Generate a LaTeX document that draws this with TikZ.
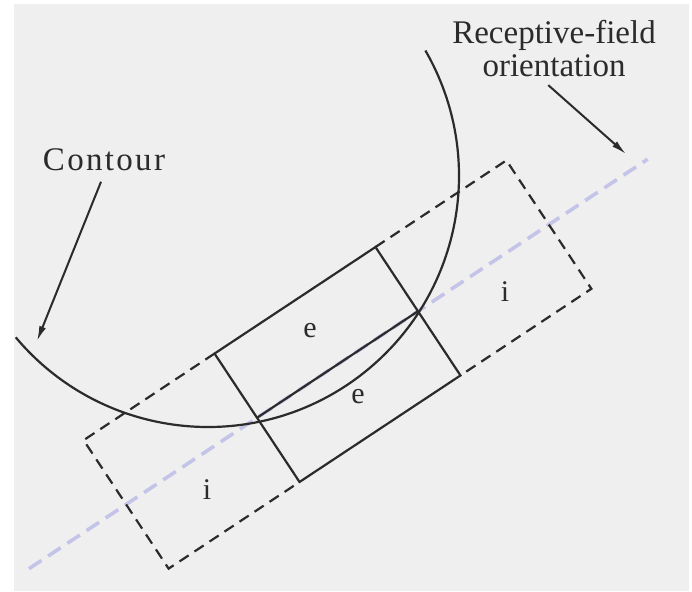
\documentclass[tikz,border=0pt]{standalone}
\usepackage{fontspec}
\setmainfont{Liberation Serif}
\usetikzlibrary{arrows.meta, positioning, calc}
\definecolor{paper}{HTML}{EFEFEF}
\definecolor{inkdark}{HTML}{2B2B2B}
\definecolor{axisblue}{HTML}{C4C4E8}

\begin{document}
\begin{tikzpicture}[
    x=1pt, y=-1pt,
    >=Latex,
    every node/.style={inner sep=3pt},
    lbl/.style={font=\fontsize{33}{33}\selectfont, text=inkdark, align=center},
    zonelbl/.style={font=\fontsize{30}{30}\selectfont, text=inkdark},
    pointer/.style={-{Latex[length=15pt,width=7pt]}, line width=2pt, inkdark},
    solidedge/.style={line width=2.2pt, inkdark},
    dashedge/.style={line width=2.2pt, inkdark, dash pattern=on 11pt off 7pt},
    axisline/.style={line width=3.6pt, axisblue, dash pattern=on 15pt off 8pt},
    contourline/.style={line width=2.2pt, inkdark},
]

% ============ Frame ============
\useasboundingbox (0,0) rectangle (692,591);
\fill[white] (0,0) rectangle (692,591);
\fill[paper] (14,4) rectangle (689,591);

% ============ Receptive field (rotated along its axis) ============
\begin{scope}[shift={(337.5,364.5)}, rotate=33.5]
    % orientation axis
    \draw[axisline] (-370,0) coordinate (axisstart) -- (372,0) coordinate (axisend);
    % inhibitory flanks
    \draw[dashedge] (-96.5,-77) -- (-253.5,-77) -- (-253.5,77) -- (-96.5,77);
    \draw[dashedge] (96.5,-77) -- (253.5,-77) -- (253.5,77) -- (96.5,77);
    % excitatory centre
    \draw[solidedge] (-96.5,-77) rectangle (96.5,77);
    \draw[solidedge] (-96.5,0) -- (96.5,0);
\end{scope}

% ============ Contour ============
\coordinate (ctr) at (208,176);
\draw[contourline] ($(ctr)+(140:251)$) arc[start angle=140, end angle=-30, radius=251];

% ============ Zone labels ============
\node[zonelbl] (eupper) at (310,331) {e};
\node[zonelbl] (elower) at (358,397) {e};
\node[zonelbl] (ileft) at (207,490) {i};
\node[zonelbl] (iright) at (505,292) {i};

% ============ Callouts ============
\node[lbl, font=\fontsize{33}{33}\selectfont\addfontfeature{LetterSpace=7}] (contourlbl) at (104,160) {Contour};
\coordinate (ctip) at (37,341);
\draw[pointer, shorten <=8pt] (contourlbl.south) -- (ctip);

\node[lbl] (rflabel) at (554,49) {Receptive-field\\orientation};
\coordinate (rftip) at (626,154);
\draw[pointer, shorten <=7pt] ([xshift=-11pt]rflabel.south) -- (rftip);

\end{tikzpicture}
\end{document}
